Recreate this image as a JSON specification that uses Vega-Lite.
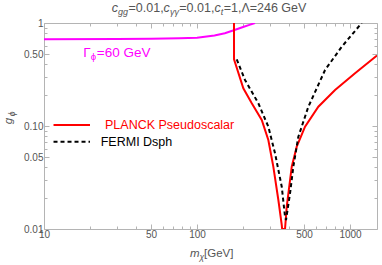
{
  "$schema": "https://vega.github.io/schema/vega-lite/v6.json",
  "width": 333,
  "height": 206,
  "autosize": {"type": "none"},
  "padding": {"left": 44, "top": 23, "right": 5, "bottom": 36},
  "config": {
    "font": "Liberation Sans",
    "view": {"stroke": null},
    "axis": {
      "domainColor": "#b4b4b4",
      "tickColor": "#b4b4b4",
      "labelColor": "#555555",
      "labelFont": "Liberation Sans",
      "labelFontSize": 10,
      "grid": false,
      "title": null,
      "labelOverlap": false,
      "labelFlush": false,
      "labelBound": false
    },
    "text": {"font": "Liberation Sans", "align": "left", "baseline": "middle"}
  },
  "datasets": {
    "lines": [
      {"grp": "gamma", "id": "gamma", "x": 10, "y": 0.695},
      {"grp": "gamma", "id": "gamma", "x": 30, "y": 0.698},
      {"grp": "gamma", "id": "gamma", "x": 50, "y": 0.702},
      {"grp": "gamma", "id": "gamma", "x": 77, "y": 0.71},
      {"grp": "gamma", "id": "gamma", "x": 100, "y": 0.72},
      {"grp": "gamma", "id": "gamma", "x": 130, "y": 0.755},
      {"grp": "gamma", "id": "gamma", "x": 152, "y": 0.794},
      {"grp": "gamma", "id": "gamma", "x": 174, "y": 0.85},
      {"grp": "gamma", "id": "gamma", "x": 200, "y": 0.915},
      {"grp": "gamma", "id": "gamma", "x": 220, "y": 0.96},
      {"grp": "gamma", "id": "gamma", "x": 239, "y": 1.0},
      {"grp": "planck", "id": "planck", "x": 174.4, "y": 1.0},
      {"grp": "planck", "id": "planck", "x": 174.5, "y": 0.444},
      {"grp": "planck", "id": "planck", "x": 200.7, "y": 0.2323},
      {"grp": "planck", "id": "planck", "x": 227.9, "y": 0.1661},
      {"grp": "planck", "id": "planck", "x": 264.8, "y": 0.1144},
      {"grp": "planck", "id": "planck", "x": 292.4, "y": 0.0731},
      {"grp": "planck", "id": "planck", "x": 315.2, "y": 0.0403},
      {"grp": "planck", "id": "planck", "x": 340.0, "y": 0.01913},
      {"grp": "planck", "id": "planck", "x": 357.8, "y": 0.01094},
      {"grp": "planck", "id": "planck", "x": 360, "y": 0.01},
      {"grp": "planck", "id": "planck", "x": 375.9, "y": 0.01},
      {"grp": "planck", "id": "planck", "x": 385.7, "y": 0.01646},
      {"grp": "planck", "id": "planck", "x": 415.9, "y": 0.0403},
      {"grp": "planck", "id": "planck", "x": 448.3, "y": 0.063},
      {"grp": "planck", "id": "planck", "x": 507.9, "y": 0.0985},
      {"grp": "planck", "id": "planck", "x": 620.5, "y": 0.1539},
      {"grp": "planck", "id": "planck", "x": 798, "y": 0.2236},
      {"grp": "planck", "id": "planck", "x": 1078, "y": 0.3248},
      {"grp": "planck", "id": "planck", "x": 1500, "y": 0.4836},
      {"grp": "fermi", "id": "fermi", "x": 181.8, "y": 0.444},
      {"grp": "fermi", "id": "fermi", "x": 205.9, "y": 0.2797},
      {"grp": "fermi", "id": "fermi", "x": 251.6, "y": 0.1661},
      {"grp": "fermi", "id": "fermi", "x": 292.4, "y": 0.0985},
      {"grp": "fermi", "id": "fermi", "x": 323.4, "y": 0.0543},
      {"grp": "fermi", "id": "fermi", "x": 357.8, "y": 0.02575},
      {"grp": "fermi", "id": "fermi", "x": 375.9, "y": 0.01316},
      {"grp": "fermi", "id": "fermi", "x": 381.6, "y": 0.01223},
      {"grp": "fermi", "id": "fermi", "x": 405.4, "y": 0.0222},
      {"grp": "fermi", "id": "fermi", "x": 426, "y": 0.0403},
      {"grp": "fermi", "id": "fermi", "x": 459.3, "y": 0.0787},
      {"grp": "fermi", "id": "fermi", "x": 534, "y": 0.1539},
      {"grp": "fermi", "id": "fermi", "x": 686.5, "y": 0.3499},
      {"grp": "fermi", "id": "fermi", "x": 882.6, "y": 0.5888},
      {"grp": "fermi", "id": "fermi", "x": 1192, "y": 1.0},
      {"grp": "planck", "id": "legR", "x": 11.54, "y": 0.1023},
      {"grp": "planck", "id": "legR", "x": 19.98, "y": 0.1023},
      {"grp": "fermi", "id": "legF", "x": 11.54, "y": 0.0704},
      {"grp": "fermi", "id": "legF", "x": 19.98, "y": 0.0704}
    ],
    "notes": [
      {"t": "c", "x": 27.70, "y": 1.389, "role": "titlevar", "grp": "label"},
      {"t": "gg", "x": 30.45, "y": 1.284, "role": "titlesub", "grp": "label"},
      {"t": "=0.01,", "x": 35.67, "y": 1.389, "role": "title", "grp": "label"},
      {"t": "c", "x": 60.48, "y": 1.389, "role": "titlevar", "grp": "label"},
      {"t": "γγ", "x": 66.6, "y": 1.284, "role": "titlesub", "grp": "label"},
      {"t": "=0.01,", "x": 76.6, "y": 1.389, "role": "title", "grp": "label"},
      {"t": "c", "x": 129.9, "y": 1.389, "role": "titlevar", "grp": "label"},
      {"t": "t", "x": 142.9, "y": 1.284, "role": "titlesub", "grp": "label"},
      {"t": "=1,Λ=246 GeV", "x": 149.3, "y": 1.389, "role": "title", "grp": "label"},
      {"t": "Γ", "x": 18.06, "y": 0.5114, "role": "gamma", "grp": "gamma"},
      {"t": "ϕ", "x": 20.23, "y": 0.4677, "role": "gammasub", "grp": "gamma"},
      {"t": "=60 GeV", "x": 22.13, "y": 0.5114, "role": "gamma", "grp": "gamma"},
      {"t": "PLANCK Pseudoscalar", "x": 25.04, "y": 0.1023, "role": "legend", "grp": "planck"},
      {"t": "FERMI Dsph", "x": 23.48, "y": 0.0704, "role": "legend", "grp": "fermi"},
      {"t": "m", "x": 90.0, "y": 0.005718, "role": "axisvar", "grp": "label"},
      {"t": "χ", "x": 103.8, "y": 0.005349, "role": "axissub", "grp": "label"},
      {"t": "[GeV]", "x": 111.1, "y": 0.005718, "role": "axis", "grp": "label"},
      {"t": "g", "x": 5.903, "y": 0.1118, "role": "yvar", "grp": "label"},
      {"t": "ϕ", "x": 6.178, "y": 0.1308, "role": "ysub", "grp": "label"}
    ]
  },
  "layer": [
    {
      "data": {"name": "lines"},
      "transform": [{"filter": "datum.grp == 'gamma'"}],
      "mark": {"type": "line", "strokeWidth": 2, "clip": true},
      "encoding": {
        "x": {
          "field": "x", "type": "quantitative",
          "scale": {"type": "log", "domain": [10, 1500], "nice": false},
          "axis": {
            "orient": "top", "labels": false,
            "values": [10, 20, 30, 40, 50, 60, 70, 80, 90, 100, 200, 300, 400, 500, 600, 700, 800, 900, 1000],
            "tickSize": {"condition": {"test": "indexof([10,50,100,500,1000], datum.value) >= 0", "value": -5}, "value": -3}
          }
        },
        "y": {
          "field": "y", "type": "quantitative",
          "scale": {"type": "log", "domain": [0.01, 1], "nice": false},
          "axis": {
            "orient": "right", "labels": false,
            "values": [0.01, 0.02, 0.03, 0.04, 0.05, 0.06, 0.07, 0.08, 0.09, 0.1, 0.2, 0.3, 0.4, 0.5, 0.6, 0.7, 0.8, 0.9, 1],
            "tickSize": {"condition": {"test": "indexof([0.01,0.05,0.1,0.5,1], datum.value) >= 0", "value": -5}, "value": -3}
          }
        },
        "color": {
          "field": "grp", "type": "nominal", "legend": null,
          "scale": {"domain": ["planck", "fermi", "gamma", "label"], "range": ["#ff0000", "#000000", "#ff00ff", "#555555"]}
        }
      }
    },
    {
      "encoding": {
        "x": {
          "field": "x", "type": "quantitative",
          "scale": {"type": "log", "domain": [10, 1500], "nice": false},
          "axis": {
            "orient": "bottom",
            "values": [10, 20, 30, 40, 50, 60, 70, 80, 90, 100, 200, 300, 400, 500, 600, 700, 800, 900, 1000],
            "labelExpr": "indexof([10,50,100,500,1000], datum.value) >= 0 ? toString(datum.value) : ''",
            "labelPadding": 5,
            "tickSize": {"condition": {"test": "indexof([10,50,100,500,1000], datum.value) >= 0", "value": -5}, "value": -3}
          }
        },
        "y": {
          "field": "y", "type": "quantitative",
          "scale": {"type": "log", "domain": [0.01, 1], "nice": false},
          "axis": {
            "orient": "left",
            "values": [0.01, 0.02, 0.03, 0.04, 0.05, 0.06, 0.07, 0.08, 0.09, 0.1, 0.2, 0.3, 0.4, 0.5, 0.6, 0.7, 0.8, 0.9, 1],
            "labelExpr": "indexof([0.01,0.05,0.1,0.5,1], datum.value) >= 0 ? (datum.value == 1 ? '1' : format(datum.value, '.2f')) : ''",
            "labelPadding": 6,
            "tickSize": {"condition": {"test": "indexof([0.01,0.05,0.1,0.5,1], datum.value) >= 0", "value": -5}, "value": -3}
          }
        },
        "color": {"field": "grp", "type": "nominal", "legend": null}
      },
      "layer": [
        {
          "data": {"name": "lines"},
          "transform": [{"filter": "datum.grp == 'planck'"}],
          "mark": {"type": "line", "strokeWidth": 2, "clip": true},
          "encoding": {"detail": {"field": "id"}}
        },
        {
          "data": {"name": "lines"},
          "transform": [{"filter": "datum.grp == 'fermi'"}],
          "mark": {"type": "line", "strokeWidth": 2, "strokeDash": [4, 3], "clip": true},
          "encoding": {"detail": {"field": "id"}}
        },
        {
          "data": {"name": "notes"},
          "transform": [{"filter": "datum.role == 'title' || datum.role == 'legend'"}],
          "mark": {"type": "text", "fontSize": 12.5},
          "encoding": {"text": {"field": "t"}}
        },
        {
          "data": {"name": "notes"},
          "transform": [{"filter": "datum.role == 'titlevar'"}],
          "mark": {"type": "text", "fontSize": 12.5, "fontStyle": "italic"},
          "encoding": {"text": {"field": "t"}}
        },
        {
          "data": {"name": "notes"},
          "transform": [{"filter": "datum.role == 'titlesub'"}],
          "mark": {"type": "text", "fontSize": 9, "fontStyle": "italic"},
          "encoding": {"text": {"field": "t"}}
        },
        {
          "data": {"name": "notes"},
          "transform": [{"filter": "datum.role == 'gamma'"}],
          "mark": {"type": "text", "fontSize": 13.5},
          "encoding": {"text": {"field": "t"}}
        },
        {
          "data": {"name": "notes"},
          "transform": [{"filter": "datum.role == 'gammasub'"}],
          "mark": {"type": "text", "fontSize": 9.5},
          "encoding": {"text": {"field": "t"}}
        },
        {
          "data": {"name": "notes"},
          "transform": [{"filter": "datum.role == 'axis'"}],
          "mark": {"type": "text", "fontSize": 11.5},
          "encoding": {"text": {"field": "t"}}
        },
        {
          "data": {"name": "notes"},
          "transform": [{"filter": "datum.role == 'axisvar'"}],
          "mark": {"type": "text", "fontSize": 11.5, "fontStyle": "italic"},
          "encoding": {"text": {"field": "t"}}
        },
        {
          "data": {"name": "notes"},
          "transform": [{"filter": "datum.role == 'axissub'"}],
          "mark": {"type": "text", "fontSize": 8.5, "fontStyle": "italic"},
          "encoding": {"text": {"field": "t"}}
        },
        {
          "data": {"name": "notes"},
          "transform": [{"filter": "datum.role == 'yvar'"}],
          "mark": {"type": "text", "fontSize": 11.5, "fontStyle": "italic", "angle": 270, "align": "center"},
          "encoding": {"text": {"field": "t"}}
        },
        {
          "data": {"name": "notes"},
          "transform": [{"filter": "datum.role == 'ysub'"}],
          "mark": {"type": "text", "fontSize": 8.5, "fontStyle": "italic", "angle": 270, "align": "center"},
          "encoding": {"text": {"field": "t"}}
        }
      ]
    }
  ],
  "resolve": {"scale": {"x": "independent", "y": "independent"}}
}
